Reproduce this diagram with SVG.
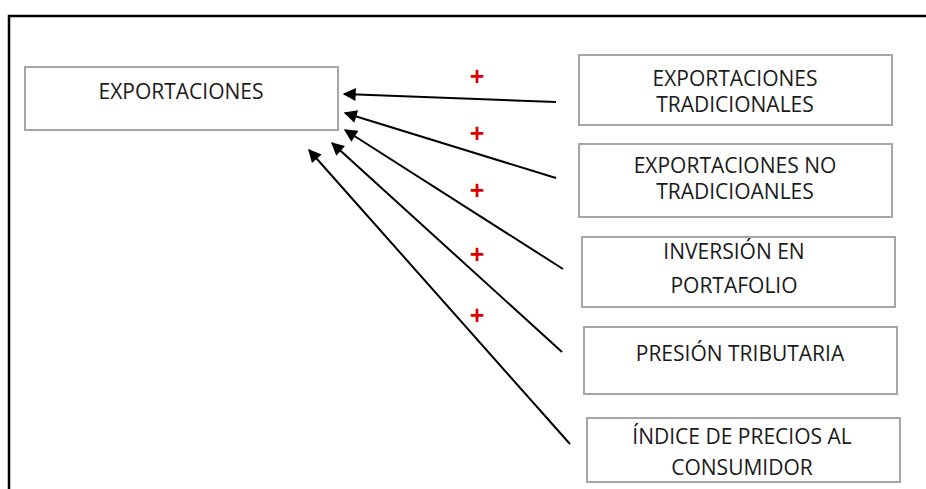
<svg xmlns="http://www.w3.org/2000/svg" width="926" height="489" viewBox="0 0 926 489">
<style>
.box{fill:#fff;stroke:#a6a6a6;stroke-width:2}
.t{font-family:"Open Sans","Liberation Sans",sans-serif;font-size:21px;fill:#1a1a1a;text-anchor:middle}
.c{stroke:#000;stroke-width:2;fill:none;marker-end:url(#ah)}
.p{font-family:"Liberation Sans",sans-serif;font-size:25px;font-weight:bold;fill:#e00000;text-anchor:middle}
</style>
<defs>
<marker id="ah" viewBox="0 0 10 10" refX="9" refY="5" markerWidth="7.5" markerHeight="6.5" orient="auto" markerUnits="strokeWidth">
<path d="M0,0 L10,5 L0,10 z" fill="#000"/>
</marker>
</defs>
<rect width="926" height="489" fill="#fff"/>
<g id="frame" stroke="#000" stroke-width="2.5" fill="none">
<path d="M9,489 V16 H926"/>
</g>
<g id="n-exportaciones">
<rect class="box" x="25" y="67" width="313" height="63"/>
<text class="t" x="181" y="99">EXPORTACIONES</text>
</g>
<g id="n-tradicionales">
<rect class="box" x="579" y="55" width="313" height="70"/>
<text class="t" x="735" y="86">EXPORTACIONES</text>
<text class="t" x="735" y="112">TRADICIONALES</text>
</g>
<g id="n-no-tradicionales">
<rect class="box" x="579" y="144" width="313" height="73"/>
<text class="t" x="735" y="173">EXPORTACIONES NO</text>
<text class="t" x="735" y="199">TRADICIOANLES</text>
</g>
<g id="n-inversion">
<rect class="box" x="582" y="237" width="313" height="70"/>
<text class="t" x="734" y="259">INVERSIÓN EN</text>
<text class="t" x="734" y="293">PORTAFOLIO</text>
</g>
<g id="n-presion">
<rect class="box" x="584" y="327" width="313" height="67"/>
<text class="t" x="740" y="361">PRESIÓN TRIBUTARIA</text>
</g>
<g id="n-ipc">
<rect class="box" x="587" y="418" width="313" height="64"/>
<text class="t" x="742" y="444">ÍNDICE DE PRECIOS AL</text>
<text class="t" x="742" y="475">CONSUMIDOR</text>
</g>
<g id="connectors">
<line class="c" x1="556" y1="102" x2="344" y2="94"/>
<line class="c" x1="556" y1="178" x2="345" y2="113"/>
<line class="c" x1="563" y1="269" x2="345" y2="130"/>
<line class="c" x1="562" y1="352" x2="332" y2="143"/>
<line class="c" x1="570" y1="444" x2="309" y2="150"/>
</g>
<g id="labels">
<text class="p" x="477" y="85">+</text>
<text class="p" x="477" y="142">+</text>
<text class="p" x="477" y="199">+</text>
<text class="p" x="477" y="263">+</text>
<text class="p" x="477" y="324">+</text>
</g>
</svg>
